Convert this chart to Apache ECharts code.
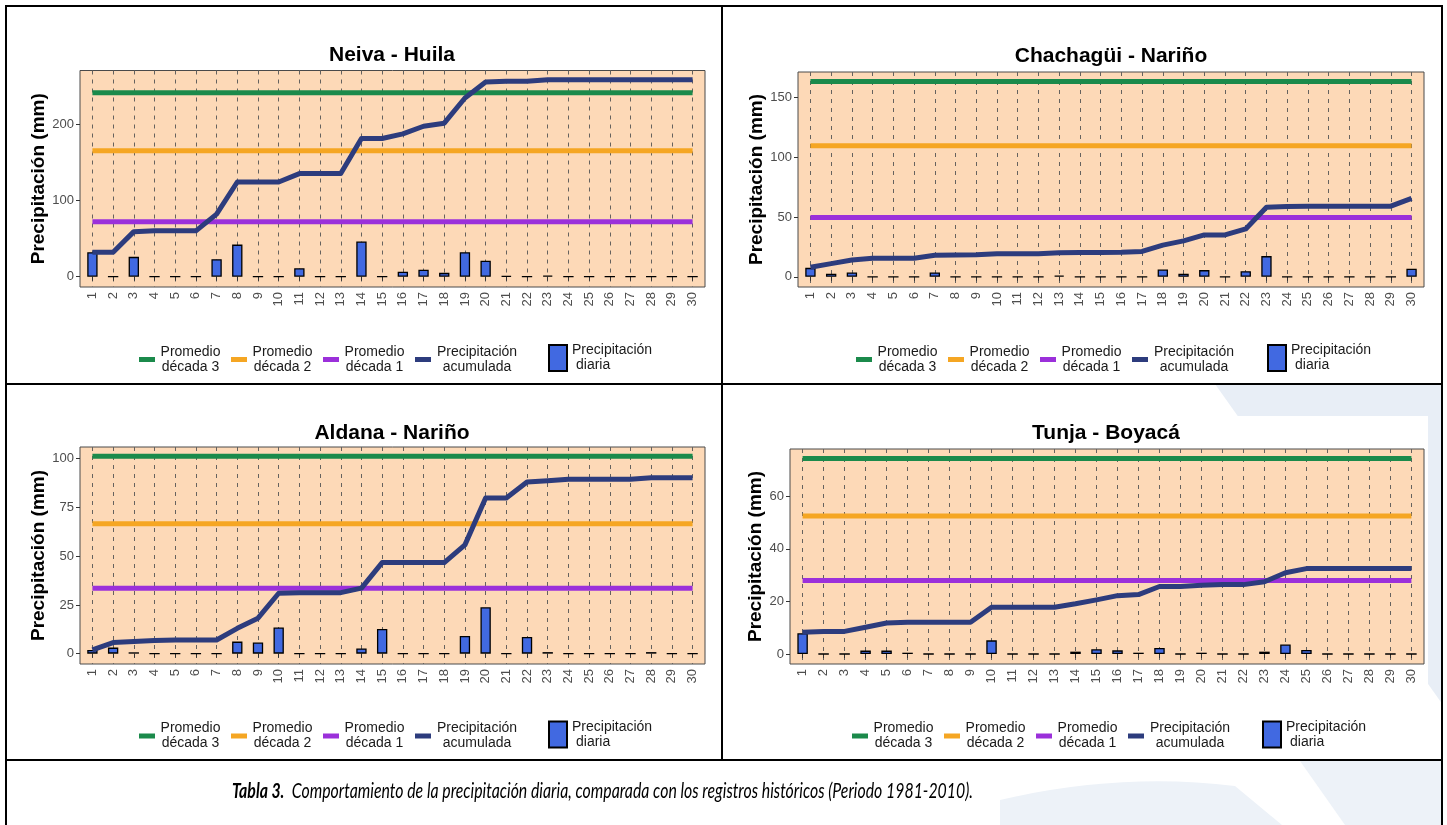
<!DOCTYPE html>
<html>
<head>
<meta charset="utf-8">
<script src="https://cdn.jsdelivr.net/npm/echarts@6/dist/echarts.min.js"></script>
<style>
  html, body { margin: 0; padding: 0; background: #fff; }
  #page { position: relative; width: 1447px; height: 825px; overflow: hidden; background: #fff; }
  #mark { position: absolute; left: 0; top: 0; }
  #sheet { position: absolute; left: 758px; top: 416px; width: 670px; height: 343px; background: #fff; }
  #chart { position: absolute; left: 0; top: 0; width: 1447px; height: 825px; }
  .rule { position: absolute; background: #000; }
  #caption { position: absolute; left: 232px; top: 777px; white-space: nowrap;
             font-family: Lato, 'Liberation Sans', Arial, sans-serif; font-style: italic; font-size: 21px;
             color: #000; transform-origin: 0 0; }
</style>
</head>
<body>
<div id="page">
  <svg id="mark" width="1447" height="825">
    <path d="M1215 384 L1443 384 L1443 705 Z" fill="#E8EEF6"/>
    <path d="M1000 800 Q1120 772 1235 786 L1282 825 L1000 825 Z" fill="#EDF2F8"/>
    <path d="M1300 761 L1443 761 L1443 825 L1345 825 Z" fill="#EDF2F8"/>
  </svg>
  <div id="sheet"></div>
  <div id="chart"></div>
  <div class="rule" style="left:5px;top:5px;width:1438px;height:2px"></div>
  <div class="rule" style="left:5px;top:5px;width:2px;height:820px"></div>
  <div class="rule" style="left:1441px;top:5px;width:2px;height:820px"></div>
  <div class="rule" style="left:721px;top:5px;width:2px;height:756px"></div>
  <div class="rule" style="left:5px;top:383px;width:1438px;height:2px"></div>
  <div class="rule" style="left:5px;top:759px;width:1438px;height:2px"></div>
  <div id="caption"><b>Tabla 3.</b>&nbsp; Comportamiento de la precipitación diaria, comparada con los registros históricos (Periodo 1981-2010).</div>
</div>
<script>
// Days of the month (x categories)
const days = [1, 2, 3, 4, 5, 6, 7, 8, 9, 10, 11, 12, 13, 14, 15, 16, 17, 18, 19, 20,
              21, 22, 23, 24, 25, 26, 27, 28, 29, 30];

const stations = ['Neiva - Huila', 'Chachagüi - Nariño', 'Aldana - Nariño', 'Tunja - Boyacá'];

const seriesNames = ['Promedio década 3', 'Promedio década 2', 'Promedio década 1',
                     'Precipitación acumulada', 'Precipitación diaria'];

// Neiva - Huila (mm)
const neivaDiaria = [32, 0, 26, 0, 0, 0, 23, 42, 0, 0, 11, 0, 0, 46, 0, 6.5, 9, 5, 32, 21,
                     1, 0, 1.5, 0, 0, 0, 0, 0, 0, 0];
const neivaAcumulada = [32, 32, 59, 60, 60, 60, 82, 124, 124, 124, 135, 135, 135, 181, 181, 187, 197, 201, 234, 255,
                        256, 256, 258, 258, 258, 258, 258, 258, 258, 258];
const neivaPromedios = [241, 165, 72];          // década 3, década 2, década 1
const neivaTicks = [0, 100, 200];

// Chachagüi - Nariño (mm)
const chachaguiDiaria = [7.5, 2.5, 3.6, 0, 0, 0, 3.6, 0, 0, 0, 0, 0, 1, 0, 0, 0, 0, 6.1, 2.5, 5.6,
                         0, 4.7, 17.3, 0, 0, 0, 0, 0, 0, 6.7];
const chachaguiAcumulada = [8, 11, 14, 15.5, 15.5, 15.5, 18, 18.3, 18.5, 19.3, 19.3, 19.3, 20, 20.2, 20.3, 20.5, 21.2, 26.5, 30, 35,
                            35, 40, 58, 58.7, 59, 59, 59, 59, 59, 65.5];
const chachaguiPromedios = [163, 109.5, 49.5];
const chachaguiTicks = [0, 50, 100, 150];

// Aldana - Nariño (mm)
const aldanaDiaria = [1.9, 3.1, 0.7, 0, 0, 0, 0, 6.2, 5.7, 13.4, 0, 0, 0, 2.7, 12.7, 0, 0, 0, 9.1, 23.8,
                      0, 8.6, 0.8, 0, 0, 0, 0, 0.8, 0, 0];
const aldanaAcumulada = [1.9, 5.7, 6.2, 6.7, 7, 7, 7, 13, 18.2, 31, 31.3, 31.3, 31.3, 33.6, 46.7, 46.7, 46.7, 46.7, 55.8, 79.8,
                         79.8, 88, 88.7, 89.5, 89.5, 89.5, 89.5, 90.2, 90.2, 90.2];
const aldanaPromedios = [101.2, 66.6, 33.6];
const aldanaTicks = [0, 25, 50, 75, 100];

// Tunja - Boyacá (mm)
const tunjaDiaria = [7.9, 0, 0, 1.3, 1.3, 0.5, 0, 0, 0, 5.2, 0, 0, 0, 0.9, 1.8, 1.4, 0.5, 2.3, 0, 0.5,
                     0, 0, 0.9, 3.6, 1.5, 0, 0, 0, 0, 0];
const tunjaAcumulada = [8.3, 8.6, 8.6, 10.2, 11.8, 12.1, 12.1, 12.1, 12.1, 17.8, 17.8, 17.8, 17.8, 19.1, 20.6, 22.2, 22.6, 25.7, 25.7, 26.2,
                        26.4, 26.4, 27.5, 30.9, 32.5, 32.5, 32.5, 32.5, 32.5, 32.5];
const tunjaPromedios = [74.4, 52.5, 28];
const tunjaTicks = [0, 20, 40, 60];

const FONT = "'Liberation Sans', Arial, sans-serif";
const COLORS = ['#1B8A4B', '#F5A623', '#9B30DA', '#2D3C7D'];
const BAR_COLOR = '#4169E1';
const PANEL_BG = '#FDD9B7';

// Layout of the four panels
const panels = [
  { title: stations[0], diaria: neivaDiaria, acum: neivaAcumulada, prom: neivaPromedios, ticks: neivaTicks,
    yMin: -13.5, yMax: 270, grid: { left: 80, top: 70.5, width: 625, height: 216.5 },
    titleX: 392, titleY: 45, nameGap: 31, legLeft: 139, barLegLeft: 548, legTop: 344.5 },
  { title: stations[1], diaria: chachaguiDiaria, acum: chachaguiAcumulada, prom: chachaguiPromedios, ticks: chachaguiTicks,
    yMin: -8.5, yMax: 171, grid: { left: 798, top: 72, width: 626, height: 215 },
    titleX: 1111, titleY: 46, nameGap: 32, legLeft: 856, barLegLeft: 1267, legTop: 344.5 },
  { title: stations[2], diaria: aldanaDiaria, acum: aldanaAcumulada, prom: aldanaPromedios, ticks: aldanaTicks,
    yMin: -5.3, yMax: 106, grid: { left: 80, top: 447, width: 625, height: 217 },
    titleX: 392, titleY: 423, nameGap: 31, legLeft: 139, barLegLeft: 548, legTop: 721 },
  { title: stations[3], diaria: tunjaDiaria, acum: tunjaAcumulada, prom: tunjaPromedios, ticks: tunjaTicks,
    yMin: -3.8, yMax: 78, grid: { left: 790, top: 449, width: 634, height: 215 },
    titleX: 1106, titleY: 423, nameGap: 24, legLeft: 852, barLegLeft: 1262, legTop: 721 }
];

function lineLegendLabel(name) {
  const parts = name.split(' ');
  const tag = parts[0] === 'Promedio' ? 'p' : 'q';
  return '{' + tag + '|' + parts[0] + '}\n{' + tag + '|' + parts.slice(1).join(' ') + '}';
}
function barLegendLabel(name) {
  const parts = name.split(' ');
  return '{l|' + parts[0] + '}\n{m|' + parts.slice(1).join(' ') + '}';
}

const legendText = { fontFamily: FONT, fontSize: 14, color: '#1a1a1a', lineHeight: 15 };

const option = { animation: false, title: [], grid: [], xAxis: [], yAxis: [], legend: [], series: [] };

panels.forEach(function (p, i) {
  option.title.push({
    text: p.title, left: p.titleX, top: p.titleY, textAlign: 'center', padding: 0,
    textStyle: { fontFamily: FONT, fontSize: 21, fontWeight: 'bold', color: '#000' }
  });
  option.grid.push(Object.assign({
    show: true, backgroundColor: PANEL_BG, borderColor: '#4a4a4a', borderWidth: 1, containLabel: false
  }, p.grid));
  option.xAxis.push({
    gridIndex: i, type: 'value', min: 0.4, max: 30.6,
    axisLine: { show: false },
    axisTick: { show: true, customValues: days, length: 4, lineStyle: { color: '#333' } },
    axisLabel: { customValues: days, rotate: 90, fontFamily: FONT, fontSize: 13, color: '#4D4D4D', margin: 5 },
    splitLine: { show: true, lineStyle: { type: [4, 5], color: '#66625e', width: 1 } }
  });
  option.yAxis.push({
    gridIndex: i, type: 'value', min: p.yMin, max: p.yMax,
    name: 'Precipitación (mm)', nameLocation: 'middle', nameGap: p.nameGap, nameRotate: 90,
    nameTextStyle: { fontFamily: FONT, fontSize: 19, fontWeight: 'bold', color: '#000' },
    axisLine: { show: false },
    axisTick: { show: true, customValues: p.ticks, length: 4, lineStyle: { color: '#333' } },
    axisLabel: { customValues: p.ticks, fontFamily: FONT, fontSize: 13, color: '#4D4D4D', margin: 6 },
    splitLine: { show: false }
  });

  option.legend.push({
    left: p.legLeft, top: p.legTop, padding: 0, itemGap: 10, itemWidth: 16, itemHeight: 5,
    icon: 'rect', selectedMode: false, data: seriesNames.slice(0, 4),
    formatter: lineLegendLabel,
    textStyle: Object.assign({}, legendText, {
      rich: {
        p: Object.assign({ width: 61, align: 'center' }, legendText),
        q: Object.assign({ width: 82, align: 'center' }, legendText)
      }
    })
  });
  option.legend.push({
    left: p.barLegLeft, top: p.legTop - 1.5, padding: 0, itemWidth: 18, itemHeight: 26,
    icon: 'rect', selectedMode: false, data: [seriesNames[4]],
    formatter: barLegendLabel,
    textStyle: Object.assign({}, legendText, {
      rich: {
        l: Object.assign({ align: 'left' }, legendText),
        m: Object.assign({ align: 'left', padding: [0, 0, 0, 4] }, legendText)
      }
    })
  });

  // daily bars
  option.series.push({
    type: 'bar', name: seriesNames[4], xAxisIndex: i, yAxisIndex: i,
    data: days.map(function (d, k) { return [d, p.diaria[k]]; }),
    barWidth: '50%',
    itemStyle: { color: BAR_COLOR, borderColor: '#000', borderWidth: 1.3 },
    z: 2
  });
  // decade averages
  p.prom.forEach(function (v, k) {
    option.series.push({
      type: 'line', name: seriesNames[k], xAxisIndex: i, yAxisIndex: i,
      data: [[days[0], v], [days[days.length - 1], v]],
      symbol: 'none', color: COLORS[k],
      lineStyle: { color: COLORS[k], width: 5, cap: 'butt' },
      itemStyle: { color: COLORS[k] },
      z: 3
    });
  });
  // accumulated precipitation
  option.series.push({
    type: 'line', name: seriesNames[3], xAxisIndex: i, yAxisIndex: i,
    data: days.map(function (d, k) { return [d, p.acum[k]]; }),
    symbol: 'none', color: COLORS[3],
    lineStyle: { color: COLORS[3], width: 5, cap: 'butt', join: 'round' },
    itemStyle: { color: COLORS[3] },
    z: 4
  });
});

const chart = echarts.init(document.getElementById('chart'), null, { renderer: 'canvas' });
chart.setOption(option);

// fit the caption line to its cell width
const cap = document.getElementById('caption');
const w = cap.getBoundingClientRect().width;
cap.style.transform = 'scaleX(' + (741 / w) + ')';
</script>
</body>
</html>
